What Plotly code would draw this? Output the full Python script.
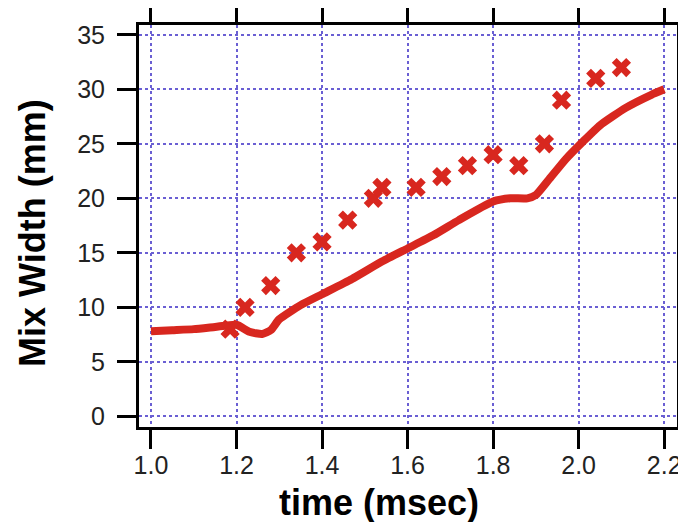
import plotly.graph_objects as go

# ---- data ----
line_time = [1.0, 1.05, 1.1, 1.15, 1.2, 1.23, 1.26, 1.28, 1.30, 1.35, 1.40, 1.47, 1.54,
             1.60, 1.66, 1.72, 1.80, 1.84, 1.88, 1.90, 1.93, 1.97, 2.01, 2.05, 2.11, 2.17, 2.2]
line_width_mm = [7.8, 7.9, 8.0, 8.2, 8.4, 7.75, 7.55, 7.9, 8.9, 10.2, 11.2, 12.6, 14.2,
                 15.4, 16.6, 18.0, 19.7, 20.0, 20.0, 20.3, 21.7, 23.6, 25.2, 26.7, 28.3, 29.5, 30.0]

meas_time = [1.185, 1.22, 1.28, 1.34, 1.40, 1.46, 1.52, 1.54, 1.62, 1.68, 1.74, 1.80,
             1.86, 1.92, 1.96, 2.04, 2.10]
meas_width_mm = [8, 10, 12, 15, 16, 18, 20, 21, 21, 22, 23, 24, 23, 25, 29, 31, 32]

x_ticks = [1.0, 1.2, 1.4, 1.6, 1.8, 2.0, 2.2]
x_tick_labels = ["1.0", "1.2", "1.4", "1.6", "1.8", "2.0", "2.2"]
y_ticks = [0, 5, 10, 15, 20, 25, 30, 35]

RED = "#d8271f"
GRID = "#6a5fd3"
FONT = "Liberation Sans, Arial, Helvetica, sans-serif"

fig = go.Figure()
fig.add_trace(go.Scatter(x=line_time, y=line_width_mm, mode="lines",
                         line=dict(color=RED, width=8, shape="spline", smoothing=0.5),
                         showlegend=False, hoverinfo="skip"))
fig.add_trace(go.Scatter(x=meas_time, y=meas_width_mm, mode="markers",
                         marker=dict(symbol="x", size=17, color=RED, line=dict(width=0)),
                         showlegend=False))

axis_common = dict(showline=True, linewidth=3, linecolor="black", mirror="ticks",
                   ticks="outside", ticklen=19, tickwidth=3, tickcolor="black",
                   showgrid=True, gridcolor=GRID, gridwidth=1.5, griddash="3px,3px",
                   zeroline=False, automargin=False,
                   tickfont=dict(family=FONT, size=25, color="#222222"))

fig.update_xaxes(range=[0.972, 2.230], tickvals=x_ticks, ticktext=x_tick_labels,
                 ticklabelstandoff=-5, **axis_common)
fig.update_yaxes(range=[-0.98, 35.9], tickvals=y_ticks,
                 ticklabelstandoff=7, **axis_common)

# page has an 8px body margin, so the figure is sized to fit the 686x522 window
fig.update_layout(
    width=678, height=514,
    margin=dict(l=131, r=9, t=17, b=95, autoexpand=False),
    paper_bgcolor="white", plot_bgcolor="white",
    annotations=[
        dict(text="<b>time (msec)</b>", xref="paper", yref="paper",
             x=(379 - 139) / 538, y=(427 - 502) / 402, xanchor="center", yanchor="middle",
             showarrow=False, font=dict(family=FONT, size=36, color="black")),
        dict(text="<b>Mix Width (mm)</b>", xref="paper", yref="paper",
             x=(32 - 139) / 538, y=(427 - 233) / 402, xanchor="center", yanchor="middle",
             textangle=-90, showarrow=False, font=dict(family=FONT, size=36, color="black")),
    ],
)

fig.write_html("out.html")
